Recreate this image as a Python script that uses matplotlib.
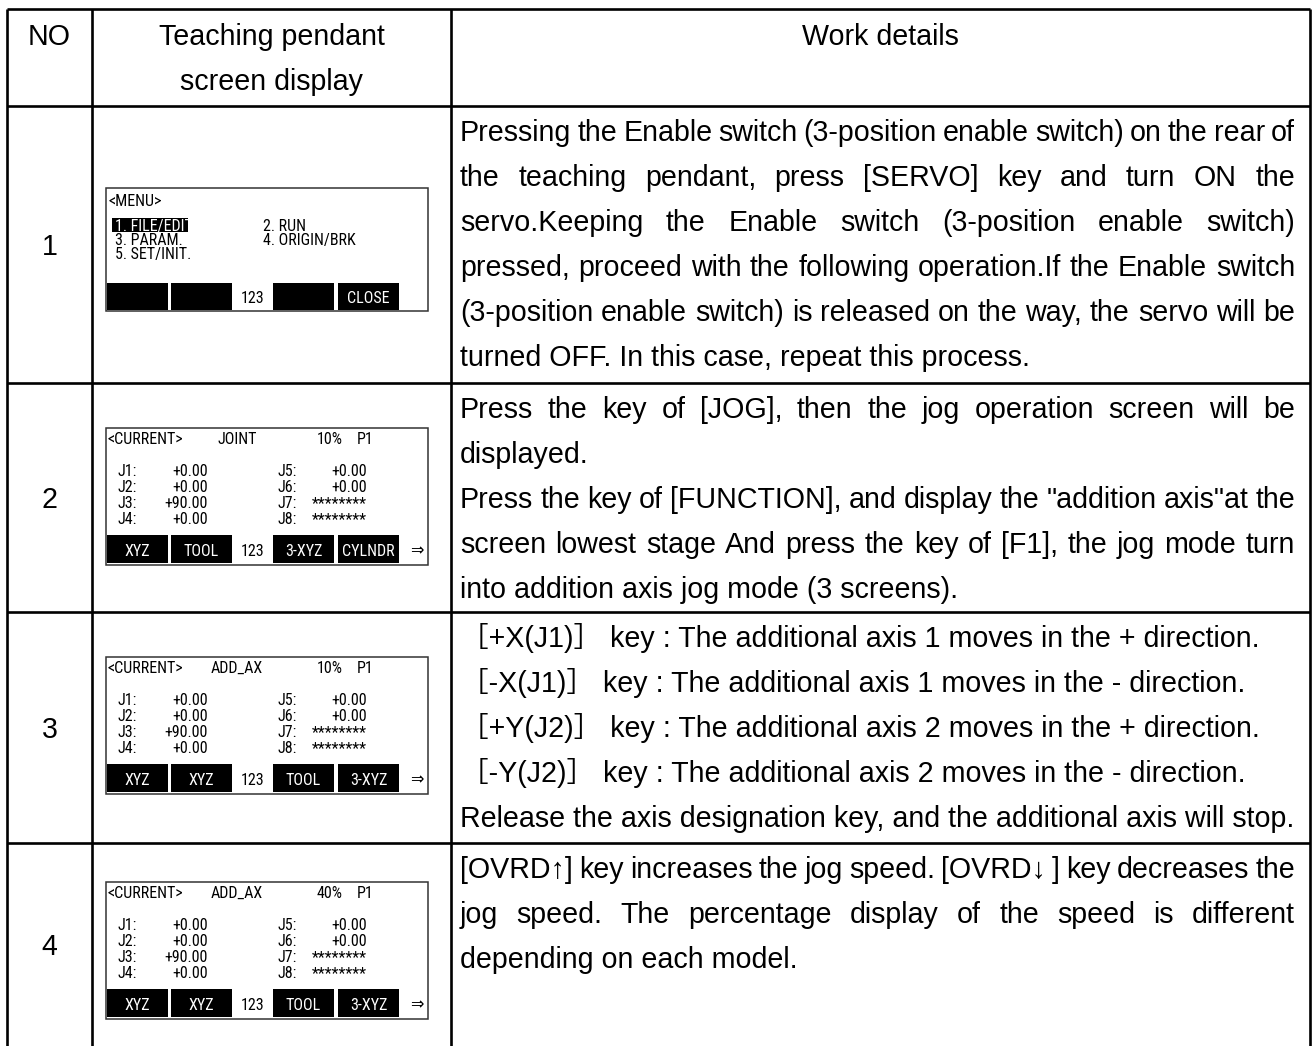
import matplotlib
matplotlib.use("Agg")
import matplotlib.pyplot as plt
from matplotlib.font_manager import FontProperties, fontManager
from matplotlib.patches import Rectangle

# -------------------------
# 1) table content
# -------------------------
header_no = "NO"
header_screen = ["Teaching pendant", "screen display"]
header_work = "Work details"
row_numbers = ["1", "2", "3", "4"]

# work details, broken into the lines of the original.
# True means the line is justified to both edges
details_row1 = [
    ("Pressing the Enable switch (3-position enable switch) on the rear of", True),
    ("the teaching pendant, press [SERVO] key and turn ON the", True),
    ("servo.Keeping the Enable switch (3-position enable switch)", True),
    ("pressed, proceed with the following operation.If the Enable switch", True),
    ("(3-position enable switch) is released on the way, the servo will be", True),
    ("turned OFF. In this case, repeat this process.", False),
]
details_row2 = [
    ("Press the key of [JOG], then the jog operation screen will be", True),
    ("displayed.", False),
    ("Press the key of [FUNCTION], and display the \"addition axis\"at the", True),
    ("screen lowest stage And press the key of [F1], the jog mode turn", True),
    ("into addition axis jog mode (3 screens).", False),
]
details_row3 = [
    ("［+X(J1)］ key : The additional axis 1 moves in the + direction.", False),
    ("［-X(J1)］ key : The additional axis 1 moves in the - direction.", False),
    ("［+Y(J2)］ key : The additional axis 2 moves in the + direction.", False),
    ("［-Y(J2)］ key : The additional axis 2 moves in the - direction.", False),
    ("Release the axis designation key, and the additional axis will stop.", False),
]
details_row4 = [
    ("[OVRD↑] key increases the jog speed. [OVRD↓ ] key decreases the", True),
    ("jog speed. The percentage display of the speed is different", True),
    ("depending on each model.", False),
]
details = [details_row1, details_row2, details_row3, details_row4]

# pendant screens
menu_title = "<MENU>"
menu_left = ["1. FILE/EDIT", "3. PARAM.", "5. SET/INIT."]
menu_right = ["2. RUN", "4. ORIGIN/BRK"]
menu_keys = ["", "", "", "CLOSE"]

jog_title = "<CURRENT>"
jog_modes = ["JOINT", "ADD_AX", "ADD_AX"]
jog_speeds = ["10%", "10%", "40%"]
jog_point = "P1"
joint_names = ["J1:", "J2:", "J3:", "J4:", "J5:", "J6:", "J7:", "J8:"]
joint_values = ["+0.00", "+0.00", "+90.00", "+0.00",
                "+0.00", "+0.00", "********", "********"]
jog_keys = [
    ["XYZ", "TOOL", "3-XYZ", "CYLNDR"],
    ["XYZ", "XYZ", "TOOL", "3-XYZ"],
    ["XYZ", "XYZ", "TOOL", "3-XYZ"],
]
key_page = "123"
more_arrow = "⇒"

# -------------------------
# 2) layout (pixels)
# -------------------------
W, H = 1313, 1046
COL_X = [7, 92, 451, 1310]
ROW_Y = [9, 106, 383, 612, 843, 1046]
STEP = 45
PAD = 25
TEXT_L, TEXT_R = 460, 1295

BOX_L, BOX_R = 106, 428
BOX_TOPS = [188, 428, 657, 882]
KEY_SLOTS = [(107, 168), (171, 232), (273, 334), (338, 399)]
PAGE_X = 253
ARROW_X = 417


def pick_narrow_font():
    # the pendant uses a narrow gothic face; take the narrowest one installed
    by_name = {}
    for f in fontManager.ttflist:
        by_name.setdefault(f.name, []).append(f.stretch)
    for name in ["Liberation Sans Narrow", "Arial Narrow", "Roboto Condensed",
                 "Open Sans Condensed", "Noto Sans Condensed", "DejaVu Sans Condensed"]:
        if name in by_name:
            return name, "normal"
    for name in ["Roboto", "Noto Sans", "Open Sans", "DejaVu Sans"]:
        if "condensed" in by_name.get(name, []):
            return name, "condensed"
    return "Noto Sans CJK JP", "normal"


narrow, narrow_stretch = pick_narrow_font()
body_family = ["Liberation Sans", "Noto Sans CJK JP", "DejaVu Sans"]
screen_family = [narrow, "DejaVu Sans"]

fig = plt.figure(figsize=(W / 100, H / 100), dpi=100)
ax = fig.add_axes([0, 0, 1, 1])
ax.set_xlim(0, W)
ax.set_ylim(H, 0)
ax.axis("off")
renderer = fig.canvas.get_renderer()


def width_of(s, fp):
    w, h, d = renderer.get_text_width_height_descent(s, fp, ismath=False)
    return w


# size the fonts from widths
body_fs = 10 * 836 / width_of(details_row3[4][0], FontProperties(family=body_family, size=10))
screen_fs = 10 * 76 / width_of(jog_title, FontProperties(family=screen_family,
                                                          stretch=narrow_stretch, size=10))
screen_fs = min(screen_fs, 11.5)
body_fp = FontProperties(family=body_family, size=body_fs)
screen_fp = FontProperties(family=screen_family, stretch=narrow_stretch, size=screen_fs)
body_px = body_fs * 100 / 72
screen_px = screen_fs * 100 / 72


def body_text(x, yc, s, ha="left"):
    ax.text(x, yc + 0.36 * body_px, s, fontproperties=body_fp, ha=ha,
            va="baseline", color="black")


def screen_text(x, yc, s, ha="left", color="black"):
    ax.text(x, yc + 0.36 * screen_px, s, fontproperties=screen_fp, ha=ha,
            va="baseline", color=color)


def detail_line(s, yc, justify):
    if not justify:
        body_text(TEXT_L, yc, s)
        return
    words = s.split(" ")
    widths = [width_of(w, body_fp) for w in words]
    gap = (TEXT_R - TEXT_L - sum(widths)) / (len(words) - 1)
    x = TEXT_L
    for w, wd in zip(words, widths):
        body_text(x, yc, w)
        x += wd + gap


# -------------------------
# 3) table grid
# -------------------------
lw = 1.9
for x in COL_X:
    ax.plot([x, x], [ROW_Y[0], ROW_Y[-1]], color="black", lw=lw, solid_capstyle="butt")
for y in ROW_Y[:-1]:
    ax.plot([COL_X[0], COL_X[-1]], [y, y], color="black", lw=lw, solid_capstyle="butt")

# header
hy = ROW_Y[0] + PAD + 1
body_text((COL_X[0] + COL_X[1]) / 2, hy, header_no, ha="center")
for i, s in enumerate(header_screen):
    body_text((COL_X[1] + COL_X[2]) / 2, hy + i * STEP, s, ha="center")
body_text((COL_X[2] + COL_X[3]) / 2, hy, header_work, ha="center")

# rows
for r in range(4):
    top, bottom = ROW_Y[r + 1], ROW_Y[r + 2]
    body_text((COL_X[0] + COL_X[1]) / 2, (top + bottom) / 2, row_numbers[r], ha="center")
    for i, (s, just) in enumerate(details[r]):
        detail_line(s, top + PAD + i * STEP, just)


# -------------------------
# 4) pendant screens
# -------------------------
def key_bar(bar_top, bar_h, labels, arrow):
    for (x0, x1), lab in zip(KEY_SLOTS, labels):
        ax.add_patch(Rectangle((x0, bar_top), x1 - x0, bar_h, fc="black", ec="none"))
        if lab:
            screen_text((x0 + x1) / 2, bar_top + bar_h / 2 + 1, lab, ha="center", color="white")
    screen_text(PAGE_X, bar_top + bar_h / 2 + 1, key_page, ha="center")
    if arrow:
        screen_text(ARROW_X, bar_top + bar_h / 2 + 1, more_arrow, ha="center")


# menu screen
top = BOX_TOPS[0]
ax.add_patch(Rectangle((BOX_L, top), BOX_R - BOX_L, 123, fill=False, ec="#333333", lw=1.1))
screen_text(108, top + 12, menu_title)
ax.add_patch(Rectangle((112, top + 30), 76, 14, fc="black", ec="none"))
for i, s in enumerate(menu_left):
    screen_text(115, top + 37 + i * 14, s, color="white" if i == 0 else "black")
for i, s in enumerate(menu_right):
    screen_text(263, top + 37 + i * 14, s)
key_bar(top + 95, 27, menu_keys, False)

# jog screens
for k in range(3):
    top = BOX_TOPS[k + 1]
    ax.add_patch(Rectangle((BOX_L, top), BOX_R - BOX_L, 137, fill=False, ec="#333333", lw=1.1))
    screen_text(107, top + 10, jog_title)
    screen_text(237, top + 10, jog_modes[k], ha="center")
    screen_text(330, top + 10, jog_speeds[k], ha="center")
    screen_text(365, top + 10, jog_point, ha="center")
    for j in range(4):
        yj = top + 42 + j * 16
        screen_text(117, yj, joint_names[j])
        screen_text(208, yj, joint_values[j], ha="right")
        screen_text(277, yj, joint_names[j + 4])
        screen_text(367, yj, joint_values[j + 4], ha="right")
    key_bar(top + 107, 28, jog_keys[k], True)

fig.savefig("out.png", dpi=100)
